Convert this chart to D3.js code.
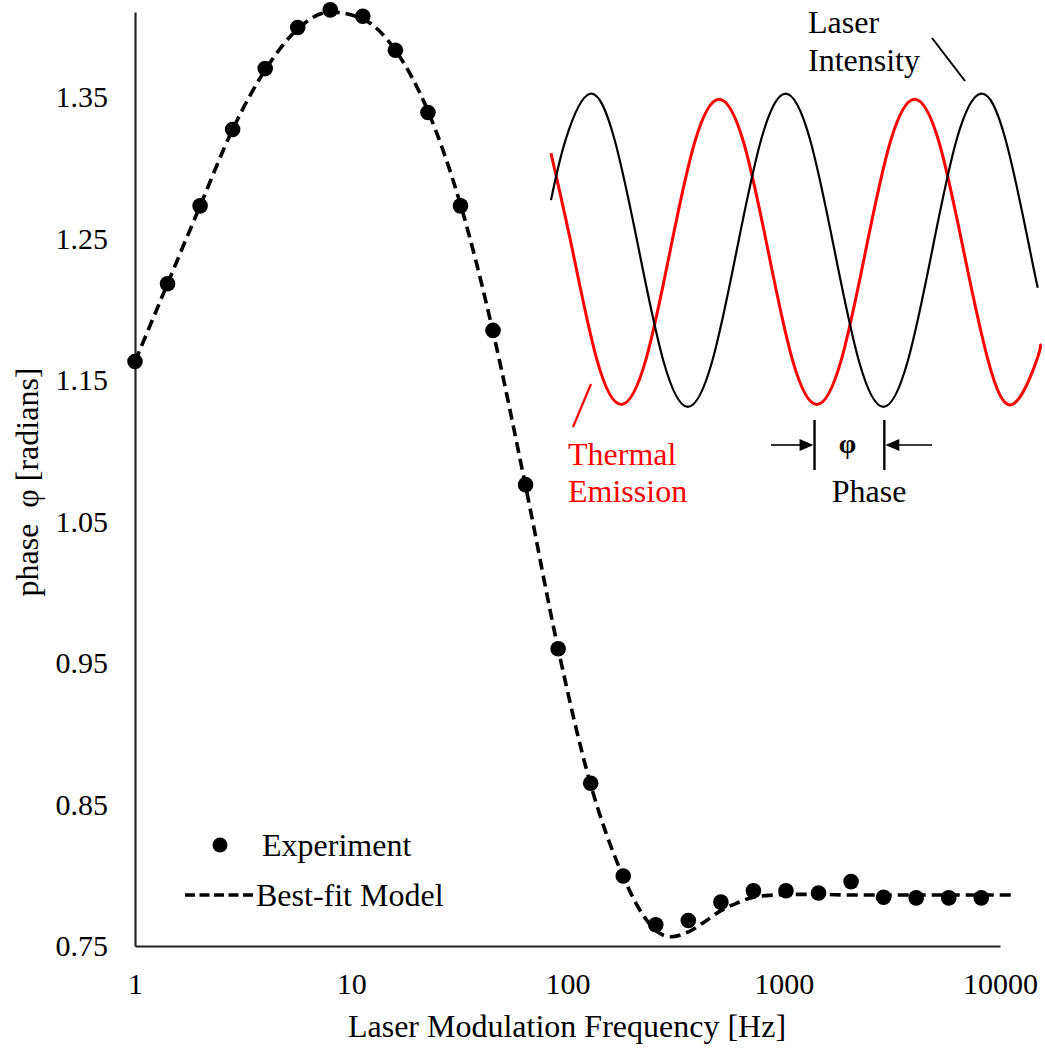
<!DOCTYPE html>
<html>
<head>
<meta charset="utf-8">
<script src="https://cdn.jsdelivr.net/npm/d3@7"></script>
<style>
  html, body { margin: 0; padding: 0; background: #fff; }
</style>
</head>
<body>
<svg id="chart" width="1045" height="1051"></svg>
<script>
// ---------------- data ----------------
const expFreq = [1, 1.414, 2, 2.828, 4, 5.657, 8, 11.31, 16, 22.63, 32, 45.25, 64, 90.51,
  128, 181, 256, 362, 512, 724, 1024, 1448, 2048, 2896, 4096, 5793, 8192];
const expPhase = [1.163, 1.218, 1.273, 1.327, 1.370, 1.399, 1.4115, 1.407, 1.383, 1.339,
  1.273, 1.185, 1.076, 0.960, 0.865, 0.7995, 0.765, 0.768, 0.781, 0.789, 0.789, 0.7875,
  0.7955, 0.7845, 0.784, 0.784, 0.784];

const modelFreq = [1, 1.414, 2, 2.828, 4, 5.657, 8, 11.31, 16, 22.63, 32, 45.25, 64, 90.51,
  128, 181, 215, 256, 300, 362, 430, 512, 600, 724, 900, 1024, 1448, 2048, 4096, 8192, 11600];
const modelPhase = [1.163, 1.218, 1.273, 1.327, 1.369, 1.398, 1.410, 1.405, 1.383, 1.340,
  1.274, 1.184, 1.075, 0.960, 0.864, 0.799, 0.776, 0.761, 0.7565, 0.760, 0.767, 0.775,
  0.780, 0.7845, 0.786, 0.7865, 0.7865, 0.786, 0.786, 0.786, 0.786];

const xTickValues = [1, 10, 100, 1000, 10000];
const yTickValues = [0.75, 0.85, 0.95, 1.05, 1.15, 1.25, 1.35];

// inset waveforms (time in periods, normalised amplitude)
const laserT = [0, 0.075, 0.2, 0.325, 0.45, 0.575, 0.7, 0.825, 0.95, 1.075, 1.2, 1.325, 1.45,
  1.575, 1.7, 1.825, 1.95, 2.075, 2.2, 2.325, 2.45, 2.49];
const laserV = [0.32, 0.707, 1, 0.707, 0, -0.707, -1, -0.707, 0, 0.707, 1, 0.707, 0,
  -0.707, -1, -0.707, 0, 0.707, 1, 0.707, 0, -0.24];
const thermalT = [0, 0.11, 0.235, 0.36, 0.485, 0.61, 0.735, 0.86, 0.985, 1.11, 1.235, 1.36,
  1.485, 1.61, 1.735, 1.86, 1.985, 2.11, 2.235, 2.36, 2.485, 2.5];
const thermalV = [0.62, 0, -0.70, -0.985, -0.70, 0, 0.69, 0.965, 0.69, 0, -0.70, -0.985,
  -0.70, 0, 0.69, 0.965, 0.69, 0, -0.70, -0.985, -0.70, -0.60];
const phaseMarkT = [1.348, 1.705];

// ---------------- drawing ----------------
const SERIF = "'Liberation Serif', 'Times New Roman', Tinos, serif";
const svg = d3.select("#chart");
const TICK = 30, LBL = 32;

function txt(g, xp, yp, s, size, fill) {
  return g.append("text").attr("x", xp).attr("y", yp).text(s)
    .style("font-family", SERIF).style("font-size", size + "px").attr("fill", fill || "#000");
}

const x = d3.scaleLog().domain([1, 10000]).range([135, 1000]);
const y = d3.scaleLinear().domain([0.75, 1.41]).range([946, 12]);

// axes
const xAxis = d3.axisBottom(x).tickValues(xTickValues).tickSize(0).tickPadding(27)
  .tickFormat(d3.format("d"));
const gx = svg.append("g").attr("transform", `translate(0,${y(0.75)})`).call(xAxis);
gx.select(".domain").attr("stroke", "#222").attr("stroke-width", 2.2);
gx.selectAll("text").style("font-family", SERIF).style("font-size", TICK + "px").attr("fill", "#000");

const yAxis = d3.axisLeft(y).tickValues(yTickValues).tickSize(0).tickPadding(27)
  .tickFormat(d3.format(".2f"));
const gy = svg.append("g").attr("transform", `translate(${x(1)},0)`).call(yAxis);
gy.select(".domain").attr("stroke", "#222").attr("stroke-width", 2.2);
gy.selectAll("text").style("font-family", SERIF).style("font-size", TICK + "px").attr("fill", "#000");

// axis titles
txt(svg, 567, 1037, "Laser Modulation Frequency [Hz]", LBL).attr("text-anchor", "middle");
svg.append("text").attr("transform", "translate(38,482) rotate(-90)")
  .attr("text-anchor", "middle").style("font-family", SERIF).style("font-size", LBL + "px")
  .style("white-space", "pre").text("phase  φ [radians]");

// model curve
const modelData = modelFreq.map((f, i) => [f, modelPhase[i]]);
const line = d3.line().x(d => x(d[0])).y(d => y(d[1])).curve(d3.curveMonotoneX);
svg.append("path").datum(modelData).attr("d", line)
  .attr("fill", "none").attr("stroke", "#000").attr("stroke-width", 3.6)
  .attr("stroke-dasharray", "11,6");

// experimental points
svg.append("g").selectAll("circle").data(expFreq.map((f, i) => [f, expPhase[i]]))
  .join("circle").attr("cx", d => x(d[0])).attr("cy", d => y(d[1])).attr("r", 7.8)
  .attr("fill", "#000");

// legend
const lg = svg.append("g");
lg.append("circle").attr("cx", 220).attr("cy", 845).attr("r", 7.5).attr("fill", "#000");
txt(lg, 262, 856, "Experiment", LBL);
lg.append("line").attr("x1", 185).attr("x2", 253).attr("y1", 895).attr("y2", 895)
  .attr("stroke", "#000").attr("stroke-width", 3.4).attr("stroke-dasharray", "10,4.5");
txt(lg, 256, 906, "Best-fit Model", LBL);

// ---------------- inset ----------------
const tx = d3.scaleLinear().domain([0, 2.5]).range([551, 1039.75]);
const ty = d3.scaleLinear().domain([-1, 1]).range([406.8, 93.7]);
const wave = d3.line().x(d => tx(d[0])).y(d => ty(d[1])).curve(d3.curveNatural);

svg.append("path").datum(thermalT.map((t, i) => [t, thermalV[i]])).attr("d", wave)
  .attr("fill", "none").attr("stroke", "#ff0000").attr("stroke-width", 3);
svg.append("path").datum(laserT.map((t, i) => [t, laserV[i]])).attr("d", wave)
  .attr("fill", "none").attr("stroke", "#000").attr("stroke-width", 2.2);

// labels
const ins = svg.append("g");
txt(ins, 808, 33, "Laser", LBL);
txt(ins, 808, 71, "Intensity", LBL);
ins.append("line").attr("x1", 932).attr("y1", 38).attr("x2", 965).attr("y2", 81)
  .attr("stroke", "#000").attr("stroke-width", 2);

txt(ins, 568, 465, "Thermal", LBL, "#ff0000");
txt(ins, 568, 502, "Emission", LBL, "#ff0000");
ins.append("line").attr("x1", 591).attr("y1", 384).attr("x2", 573).attr("y2", 427)
  .attr("stroke", "#ff0000").attr("stroke-width", 2.2);

// phase markers
phaseMarkT.forEach(t => {
  ins.append("line").attr("x1", tx(t)).attr("x2", tx(t)).attr("y1", 420).attr("y2", 470)
    .attr("stroke", "#000").attr("stroke-width", 2.4);
});
const ay = 445;
const xl = tx(phaseMarkT[0]) - 1, xr = tx(phaseMarkT[1]) + 1;
ins.append("line").attr("x1", 771).attr("x2", xl - 12).attr("y1", ay).attr("y2", ay)
  .attr("stroke", "#000").attr("stroke-width", 1.6);
ins.append("path").attr("d", `M${xl},${ay} L${xl - 14},${ay - 6} L${xl - 14},${ay + 6} Z`).attr("fill", "#000");
ins.append("line").attr("x1", 932).attr("x2", xr + 12).attr("y1", ay).attr("y2", ay)
  .attr("stroke", "#000").attr("stroke-width", 1.6);
ins.append("path").attr("d", `M${xr},${ay} L${xr + 14},${ay - 6} L${xr + 14},${ay + 6} Z`).attr("fill", "#000");
txt(ins, (xl + xr) / 2 - 2, ay + 8, "φ", 28).attr("text-anchor", "middle").style("font-weight", "bold");
txt(ins, 869, 502, "Phase", LBL).attr("text-anchor", "middle");
</script>
</body>
</html>
